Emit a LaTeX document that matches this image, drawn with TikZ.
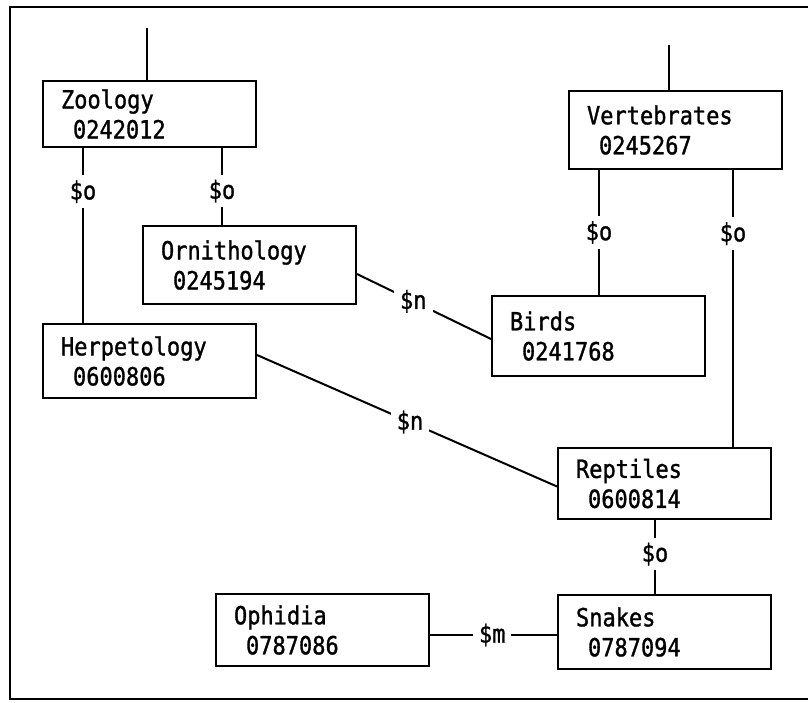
\documentclass[tikz,border=0pt]{standalone}
\usepackage{fontspec}
\setmonofont[FakeStretch=0.88,FakeBold=1.2]{DejaVu Sans Mono}

\begin{document}
\begin{tikzpicture}[x=1pt,y=-1pt,
    card/.style={draw,line width=2pt,anchor=north west,inner xsep=18pt,inner ysep=0pt,
      text width=177pt,minimum height=#1,align=left,
      font=\ttfamily\fontsize{25}{30}\selectfont},
    rel/.style={fill=white,inner xsep=6pt,inner ysep=5pt,
      font=\ttfamily\fontsize{25}{28}\selectfont},
    link/.style={line width=2pt}]

      \useasboundingbox (0,0) rectangle (808,702);
      \draw[link] (808,7) -- (10,7) -- (10,699) -- (808,699);

      \node[card=66pt] (zoo) at (42,80) {Zoology\\\hspace*{12pt}0242012};
      \node[card=78pt] (orn) at (142,225) {Ornithology\\\hspace*{12pt}0245194};
      \node[card=74pt] (herp) at (42,323) {Herpetology\\\hspace*{12pt}0600806};
      \node[card=78pt] (vert) at (568,90) {Vertebrates\\\hspace*{12pt}0245267};
      \node[card=80pt] (birds) at (491,295) {Birds\\\hspace*{12pt}0241768};
      \node[card=71pt] (rept) at (557,447) {Reptiles\\\hspace*{12pt}0600814};
      \node[card=74pt] (snakes) at (557,594) {Snakes\\\hspace*{12pt}0787094};
      \node[card=72pt] (oph) at (215,593) {Ophidia\\\hspace*{12pt}0787086};

      \coordinate (zooup) at (147,28);
      \coordinate (vertup) at (669,45);

      \draw[link] (zooup) -- (zooup |- zoo.north);
      \draw[link] (vertup) -- (vertup |- vert.north);

      \draw[link] ([xshift=41pt]zoo.south west) coordinate (z1)
        -- node[rel,pos=.25]{\$o} (z1 |- herp.north);
      \draw[link] ([xshift=180pt]zoo.south west) coordinate (z2)
        -- node[rel,pos=.56]{\$o} (z2 |- orn.north);
      \draw[link] ([xshift=31pt]vert.south west) coordinate (v1)
        -- node[rel,pos=.5]{\$o} (v1 |- birds.north);
      \draw[link] ([xshift=165pt]vert.south west) coordinate (v2)
        -- node[rel,pos=.23]{\$o} (v2 |- rept.north);
      \draw[link] ([xshift=98pt]rept.south west) coordinate (r1)
        -- node[rel,pos=.46]{\$o} (r1 |- snakes.north);

      \draw[link] ([yshift=-9pt]orn.east) -- node[rel,pos=.42]{\$n} ([yshift=-3pt]birds.west);
      \draw[link] ([yshift=6pt]herp.east) -- node[rel,pos=.51]{\$n} ([yshift=-3pt]rept.west);
      \draw[link] ([yshift=-5pt]oph.east) -- node[rel,pos=.49]{\$m} ([yshift=-5pt]oph.east -| snakes.west);

    \end{tikzpicture}
\end{document}
